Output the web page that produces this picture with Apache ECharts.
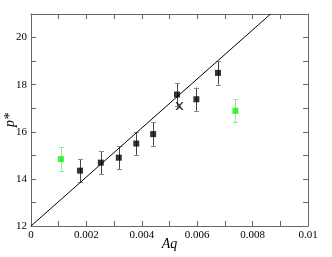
<!DOCTYPE html>
<html><head><meta charset="utf-8">
<script src="https://cdn.jsdelivr.net/npm/echarts@6/dist/echarts.min.js"></script>
<style>html,body{margin:0;padding:0;background:#fff}#c{width:332px;height:257px}</style>
</head><body><div id="c"></div>
<script>
// Data
const blackX = [0.00177, 0.00252, 0.00317, 0.0038, 0.00441, 0.00527, 0.00597, 0.00675];
const blackY = [14.35, 14.69, 14.9, 15.5, 15.9, 17.58, 17.38, 18.5];
const blackErr = [0.49, 0.49, 0.49, 0.48, 0.5, 0.49, 0.49, 0.5];
const greenX = [0.00108, 0.00738];
const greenY = [14.84, 16.89];
const greenErr = [0.5, 0.49];
const crossX = [0.00536];
const crossY = [17.09];
const fitX = [0, 0.00865];
const fitY = [12, 21];
const xTickLabels = {"0":"0","0.002":"0.002","0.004":"0.004","0.006":"0.006","0.008":"0.008","0.01":"0.01"};

const font = "Liberation Serif";
function pts(xs, ys){ return xs.map((x,i)=>[x, ys[i]]); }
function errData(xs, ys, es){ return xs.map((x,i)=>[x, ys[i]-es[i], ys[i]+es[i]]); }
function errRender(color, capColor){
  return function(params, api){
    const lo = api.coord([api.value(0), api.value(1)]);
    const hi = api.coord([api.value(0), api.value(2)]);
    const x = Math.round(lo[0]) + 0.5;
    const hw = 2.5;
    const st = {stroke: color, lineWidth: 1};
    const cs = {stroke: capColor, lineWidth: 1};
    return {type:'group', children:[
      {type:'line', shape:{x1:x, y1:lo[1], x2:x, y2:hi[1]}, style:st},
      {type:'line', shape:{x1:x-hw, y1:Math.round(lo[1])+0.5, x2:x+hw, y2:Math.round(lo[1])+0.5}, style:cs},
      {type:'line', shape:{x1:x-hw, y1:Math.round(hi[1])+0.5, x2:x+hw, y2:Math.round(hi[1])+0.5}, style:cs}
    ]};
  };
}
const axisCol = '#666';
function xAx(pos, show){
  return {type:'value', position:pos, min:0, max:0.01, interval:0.002,
    axisLine:{onZero:false, lineStyle:{color:axisCol}},
    axisTick:{inside:true, length:5, lineStyle:{color:axisCol}},
    minorTick:{show:true, splitNumber:2, length:5, lineStyle:{color:axisCol}},
    splitLine:{show:false},
    axisLabel:{show:show, color:'#000', fontFamily:font, fontSize:11, margin:4,
      formatter:v=>{ const k = String(+v.toFixed(3)); return xTickLabels[k] ?? k; }},
    name: show ? 'Aq' : '', nameLocation:'middle', nameGap:11, nameMoveOverlap:false,
    nameTextStyle:{fontFamily:font, fontStyle:'italic', fontSize:14, color:'#000', verticalAlign:'top'}};
}
function yAx(pos, show){
  return {type:'value', position:pos, min:12, max:21, interval:2,
    axisLine:{onZero:false, lineStyle:{color:axisCol}},
    axisTick:{inside:true, length:5, lineStyle:{color:axisCol}},
    minorTick:{show:true, splitNumber:2, length:5, lineStyle:{color:axisCol}},
    splitLine:{show:false},
    axisLabel:{show:show, color:'#000', fontFamily:font, fontSize:11, margin:4,
      formatter:v=> v>20.5 ? '' : String(v)},
    name: show ? 'p*' : '', nameLocation:'middle', nameGap:14, nameRotate:90, nameMoveOverlap:false,
    nameTextStyle:{fontFamily:font, fontStyle:'italic', fontSize:14, color:'#000'}};
}
const chart = echarts.init(document.getElementById('c'), null, {renderer:'canvas'});
chart.setOption({
  animation:false,
  backgroundColor:'#fff',
  textStyle:{fontFamily:font},
  grid:{left:31, right:24, top:14, bottom:31, containLabel:false, outerBoundsMode:'none'},
  xAxis:[xAx('bottom', true), xAx('top', false)],
  yAxis:[yAx('left', true), yAx('right', false)],
  series:[
    {type:'line', data:pts(fitX, fitY), symbol:'none', lineStyle:{color:'#000', width:1}, clip:true},
    {type:'custom', data:errData(blackX, blackY, blackErr), renderItem:errRender('#444', '#888'), encode:{x:0, y:[1,2]}},
    {type:'custom', data:errData(greenX, greenY, greenErr), renderItem:errRender('#8eef8e', '#8eef8e'), encode:{x:0, y:[1,2]}},
    {type:'scatter', data:pts(blackX, blackY), symbol:'rect', symbolSize:6, itemStyle:{color:'#000'}},
    {type:'scatter', data:pts(greenX, greenY), symbol:'rect', symbolSize:6, itemStyle:{color:'#11f011'}},
    {type:'scatter', data:pts(crossX, crossY), symbol:'path://M0,0L2,0L5,3L8,0L10,0L6,5L10,10L8,10L5,7L2,10L0,10L4,5Z', symbolSize:8, itemStyle:{color:'#000'}}
  ]
});
</script></body></html>
